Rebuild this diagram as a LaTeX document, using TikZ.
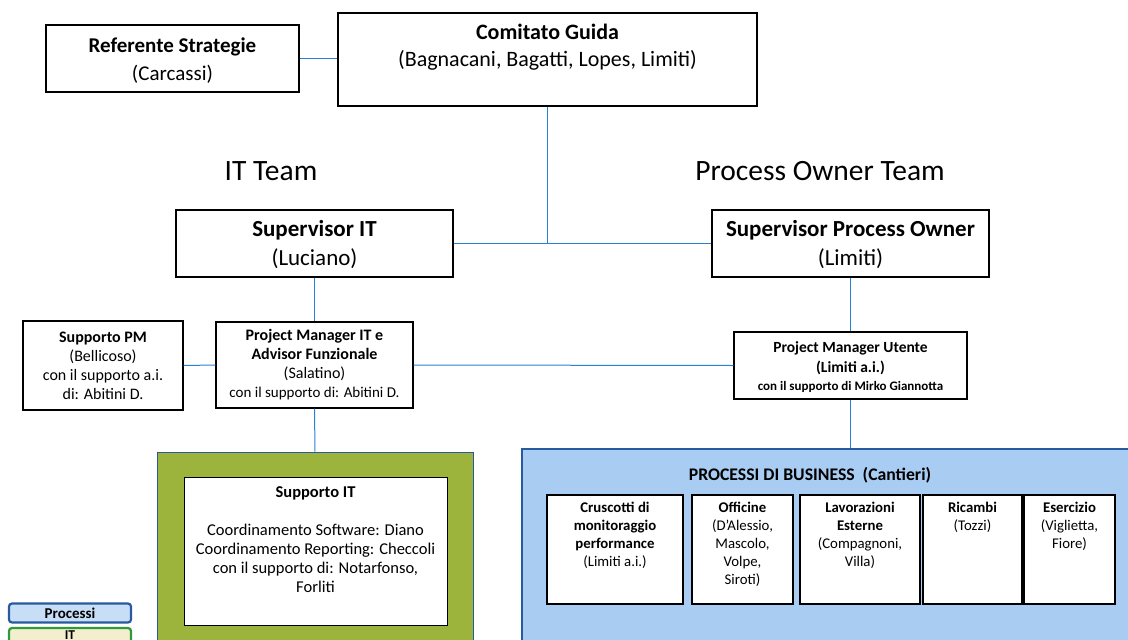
\documentclass[tikz,border=0pt]{standalone}
\usepackage{fontspec}
\setmainfont{Carlito}
\usetikzlibrary{calc}
\definecolor{lineblue}{RGB}{40,130,210}
\definecolor{olive}{RGB}{157,180,60}
\definecolor{procfill}{RGB}{168,204,242}
\definecolor{darkblue}{RGB}{40,90,160}
\definecolor{legfill}{RGB}{200,222,246}
\definecolor{leggreen}{RGB}{46,154,58}
\definecolor{legyellow}{RGB}{243,238,205}
\newcommand\myfs[2]{\fontsize{#1}{#2}\selectfont}
\tikzset{
  box/.style={draw=black, line width=1.2pt, fill=white, inner sep=0pt, align=center},
  conn/.style={draw=lineblue, line width=1pt},
  txt/.style={align=center, inner sep=0pt},
  subbox/.style={box, minimum height=109pt},
  subtxt/.style={txt, anchor=north, font=\myfs{14.8}{18}},
  legbox/.style={rounded corners=3pt, line width=2.2pt, minimum width=122pt, inner sep=0pt, align=center},
}
\begin{document}
\begin{tikzpicture}[x=1pt,y=-1pt]
\useasboundingbox (0,0) rectangle (1128,640);

% top row
\node[box, minimum width=253pt, minimum height=67pt] (ref) at (172.5,58.5) {};
\node[txt, font=\myfs{21}{28}] (reftxt) at (172.5,61)
  {\bfseries Referente Strategie\\(Carcassi)};
\node[box, minimum width=419pt, minimum height=93pt] (com) at (547.5,59.5) {};
\node[txt, font=\myfs{22}{27}] (comtxt) at (547.5,47.5)
  {\bfseries Comitato Guida\\(Bagnacani, Bagatti, Lopes, Limiti)};

% team labels
\node[txt, font=\myfs{29.5}{32}] (itteam) at (271,171) {IT Team};
\node[txt, font=\myfs{29.5}{32}] (poteam) at (820,171) {Process Owner Team};

% supervisors
\node[box, minimum width=277pt, minimum height=67pt] (supit) at (314.5,243.5) {};
\node[txt, font=\myfs{23}{29}] (supittxt) at (314.5,245)
  {\bfseries Supervisor IT\\(Luciano)};
\node[box, minimum width=277pt, minimum height=67pt] (suppo) at (850.5,243.5) {};
\node[txt, font=\myfs{23}{29}] (suppotxt) at (850.5,245)
  {\bfseries Supervisor Process Owner\\(Limiti)};

% managers
\node[box, minimum width=160pt, minimum height=89pt, font=\myfs{16}{19}] (suppm) at (103,365.5)
  {\bfseries Supporto PM\\(Bellicoso)\\con il supporto a.i.\\di: Abitini D.};
\node[box, minimum width=197pt, minimum height=86pt, font=\myfs{16}{19}] (pmit) at (314.5,365)
  {\bfseries Project Manager IT e\\\bfseries Advisor Funzionale\\(Salatino)\\{\myfs{15}{19}con il supporto di: Abitini D.}};
\node[box, minimum width=233pt, minimum height=67pt] (pmu) at (850.5,365.5) {};
\node[txt, font=\myfs{15.5}{20}\bfseries] (pmutxt) at (850.5,367)
  {Project Manager Utente\\(Limiti a.i.)\\[-2pt]{\myfs{13}{16}con il supporto di Mirko Giannotta}};

% IT support block
\node[draw=darkblue, line width=1pt, fill=olive, minimum width=316pt, minimum height=193pt, inner sep=0pt] (itbox) at (315,548.5) {};
\node[box, line width=0.8pt, minimum width=263pt, minimum height=148pt] (itin) at (315.5,551) {};
\node[txt, font=\myfs{16.5}{19}] (ittxt) at (315.5,540)
  {\bfseries Supporto IT\\[19pt]
   Coordinamento Software: Diano\\
   Coordinamento Reporting: Checcoli\\
   con il supporto di: Notarfonso,\\
   Forliti};

% business processes block
\node[draw=darkblue, line width=1.2pt, fill=procfill, minimum width=613pt, minimum height=196pt, inner sep=0pt] (proc) at (828.5,547) {};
\node[txt, font=\myfs{17.7}{20}\bfseries] (proctitle) at (810,475) {PROCESSI DI BUSINESS\ \ (Cantieri)};

\node[subbox, minimum width=136pt] (b1) at (615,549.5) {};
\node[subbox, minimum width=101pt] (b2) at (742.5,549.5) {};
\node[subbox, minimum width=120pt] (b3) at (860,549.5) {};
\node[subbox, minimum width=99pt] (b4) at (972.5,549.5) {};
\node[subbox, minimum width=91pt] (b5) at (1069.5,549.5) {};

\node[subtxt] (t1) at (615,502)
  {\bfseries Cruscotti di\\\bfseries monitoraggio\\\bfseries performance\\(Limiti a.i.)};
\node[subtxt] (t2) at (742.5,502)
  {\bfseries Officine\\(D'Alessio,\\Mascolo,\\Volpe,\\Siroti)};
\node[subtxt] (t3) at (860,502)
  {\bfseries Lavorazioni\\\bfseries Esterne\\(Compagnoni,\\Villa)};
\node[subtxt] (t4) at (972.5,502)
  {\bfseries Ricambi\\(Tozzi)};
\node[subtxt] (t5) at (1069.5,502)
  {\bfseries Esercizio\\(Viglietta,\\Fiore)};

% legend
\node[legbox, draw=darkblue, fill=legfill, minimum height=19pt, font=\myfs{15}{16}\bfseries] (legp) at (70,613) {Processi};
\node[legbox, draw=leggreen, fill=legyellow, minimum height=20pt] (legit) at (70,638) {};
\node[txt, font=\myfs{13.5}{15}\bfseries] (legittxt) at (70,635) {IT};

% connectors
\draw[conn] (ref.east) -- (ref.east -| com.west);
\draw[conn] (com.south) -- (com.south |- supit.east);
\draw[conn] (supit.east) -- (suppo.west);
\draw[conn] (supit.south) -- (pmit.north);
\draw[conn] (suppm.east) -- (pmit.west);
\draw[conn] (pmit.east) -- (pmu.west);
\draw[conn] (suppo.south) -- (pmu.north);
\draw[conn] (pmit.south) -- (itbox.north);
\draw[conn] (pmu.south) -- (proc.north -| pmu.south);
\end{tikzpicture}
\end{document}
